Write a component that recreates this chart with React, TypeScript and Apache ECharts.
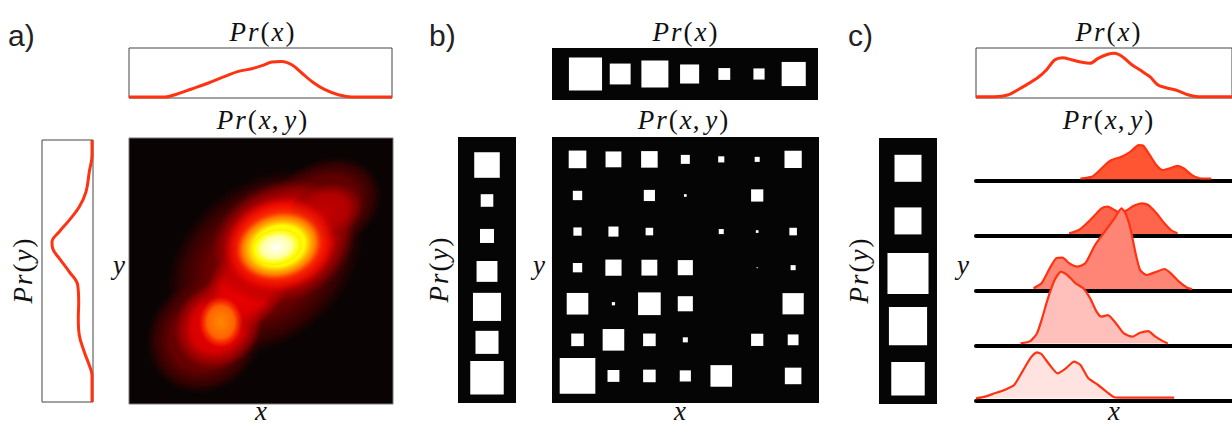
import React, { useEffect, useRef } from "react";
import * as echarts from "echarts";

// ---------- panel a ----------
const aTopX = [0, 13.7, 17.5, 23.8, 30.2, 36.5, 41.6, 46.7, 50.5, 54.3, 58.1, 61.9, 65.7, 69.5, 74.5, 79.6, 84.7, 100];
const aTopP = [0, 0, 2.3, 8, 14, 20.6, 25.6, 28.3, 31.3, 35, 35.6, 32.3, 24, 15.6, 7.3, 2.3, 0, 0];
const aLeftY = [100, 99.4, 94.3, 87.9, 80.2, 74.5, 69.4, 65, 61.1, 58.6, 54.8, 49.7, 44.6, 38.2, 31.9, 25.5, 19.1, 14, 10.2, 0];
const aLeftP = [0, 0, 0, 2.7, 6, 12.7, 22.7, 32.7, 40, 39.3, 32.7, 22.7, 14.3, 13.3, 13.7, 12.7, 7.7, 2.7, 0, 0];

// density blobs of Pr(x,y): centre, radii, angle, intensity
const blobX = [28.8, 51.5, 74.2, 33.7, 45.1, 58.3, 74.2, 34.8, 57.2, 56.8, 55.9];
const blobY = [25.9, 53.4, 74.8, 29.7, 44.7, 60.9, 72.2, 30.8, 59.8, 59.4, 59.0];
const blobRX = [23.4, 41.5, 22.6, 18.1, 20.8, 28.3, 15.1, 8.6, 22.0, 16.6, 10.0];
const blobRY = [20.8, 30.2, 17, 15.8, 14.3, 22.6, 10.6, 10.0, 18.0, 12.6, 7.0];
const blobAngle = [45, 40, 25, 45, 50, 25, 20, 0, 15, 15, 12];
const blobLevel = [0.16, 0.16, 0.15, 0.34, 0.35, 0.34, 0.28, 0.57, 0.52, 0.82, 1.0];

// ---------- panel b ----------
const bTopP = [0.92, 0.58, 0.75, 0.53, 0.33, 0.31, 0.67];
const bLeftP = [0.71, 0.35, 0.39, 0.58, 0.78, 0.64, 0.93];
const bJoint = [
  [0.49, 0.44, 0.46, 0.25, 0.17, 0.14, 0.48],
  [0.26, 0, 0.31, 0.075, 0, 0.34, 0],
  [0.23, 0.28, 0.21, 0, 0.14, 0.075, 0.21],
  [0.26, 0.45, 0.44, 0.42, 0, 0.03, 0.14],
  [0.6, 0.09, 0.63, 0.42, 0, 0, 0.59],
  [0.35, 0.6, 0.35, 0.14, 0, 0.34, 0.3],
  [0.99, 0.33, 0.35, 0.31, 0.6, 0, 0.46],
];

// ---------- panel c ----------
const cTopX = [0, 7.3, 12.4, 17.4, 23.8, 27.5, 30.7, 33.8, 37.6, 41.4, 44.6, 47.7, 51.5, 54.1, 57.2, 61, 64.1, 67.9, 71.1, 74.2, 78, 83.1, 86.9, 100];
const cTopP = [0, 0, 1.7, 8.4, 18.4, 26.7, 36.7, 39, 36.7, 34.4, 33.4, 38.4, 42.4, 43.4, 40, 31.7, 26.7, 20, 11.7, 9, 6.7, 1.7, 0, 0];
const cLeftP = [0.75, 0.75, 1.14, 1.06, 0.93];

const r1X = [40.8, 45.2, 47.7, 50.3, 52.8, 56.6, 60.3, 63.5, 65.4, 67.9, 70.5, 73, 75.5, 78.7, 81.2, 84.4, 88.1, 91.9];
const r1P = [0.7, 2.3, 7.3, 14, 19, 22.3, 27.3, 34, 33.3, 24, 14, 9, 10.7, 13.3, 10.7, 4, 0.7, 0.7];
const r2X = [36.4, 40.2, 43.3, 46.5, 49, 51.5, 54.1, 56.4, 59.1, 61.6, 64.8, 67.3, 70.5, 73.6, 76.1, 78.7];
const r2P = [0.7, 4, 10.7, 19, 25.7, 27.3, 24, 21, 24, 28.3, 30.7, 29, 20.7, 10.7, 4, 0.7];
const r3X = [22.5, 25.6, 28.8, 31.3, 33.8, 36.4, 39.5, 42.7, 46.5, 50.3, 54.1, 56.8, 58.4, 60.3, 62.2, 64.1, 66.7, 70.5, 73.6, 76.1, 79.3, 82.5, 84.4];
const r3P = [0.7, 5.7, 20.7, 30.7, 31.3, 25.7, 22.3, 25.7, 44, 57.3, 70.7, 80.7, 75.7, 60.7, 37.3, 19, 14, 17.3, 20, 15.7, 7.3, 1.3, 0];
const r4X = [17.4, 21.2, 23.8, 25.6, 28.1, 30.7, 33.2, 35.7, 38.9, 42, 44.6, 47.1, 49, 51.5, 54.7, 57.8, 61, 64.1, 67.3, 69.8, 73, 74.9];
const r4P = [0, 2.3, 10, 23.3, 45, 63.3, 71.7, 68.3, 60, 55, 45, 31.7, 26.7, 28.3, 20, 10, 6.7, 10.7, 12.3, 7.3, 2.3, 0];
const r5X = [0, 3.5, 7.3, 11.1, 14.9, 18.1, 21.2, 23.8, 25.6, 28.8, 31.9, 35.1, 38.3, 40.8, 43.9, 47.7, 50.9, 54.1, 56.6, 77.4];
const r5P = [0, 1.7, 5, 8.3, 13.3, 26.7, 40, 46, 44, 33.3, 25, 30, 36.7, 33.3, 20, 13.3, 6.7, 1, 0.7, 0.7];

const ridgeX = [r1X, r2X, r3X, r4X, r5X];
const ridgeP = [r1P, r2P, r3P, r4P, r5P];

// ---------- styles ----------
const RED = "#ff3311";
const RIDGE_FILL = ["#ff5533", "#ff654c", "#ff8677", "#ffbfba", "#ffe3e1"];
const RIDGE_BASE = [181.2, 236, 291, 345.4, 400.3];
const SQ = 36;
const SERIF = "'Liberation Serif', 'Times New Roman', serif";
const SANS = "'Liberation Sans', Arial, sans-serif";
const MATH_SIZE = 27;

const zip = (xs: number[], ys: number[]) => xs.map((x, i) => [x, ys[i]]);

function clamp(v: number) {
  return Math.max(0, Math.min(1, v));
}
function hot(t: number, a: number) {
  const r = Math.round(255 * clamp(t / 0.365));
  const g = Math.round(255 * clamp((t - 0.365) / 0.381));
  const b = Math.round(255 * clamp((t - 0.746) / 0.254));
  return `rgba(${r},${g},${b},${a})`;
}

function mathRich(s: string) {
  let out = "";
  for (const ch of s) {
    if (/[A-Za-z]/.test(ch)) out += `{i|${ch}}`;
    else if (ch === ",") out += `{c|${ch}}`;
    else out += `{n|${ch}}`;
  }
  return out;
}
const MATH_RICH = {
  i: { fontFamily: SERIF, fontStyle: "italic", fontSize: MATH_SIZE, lineHeight: 24, padding: [0, 1, 0, 1], fill: "#111" },
  n: { fontFamily: SERIF, fontSize: MATH_SIZE, lineHeight: 24, padding: [0, 1, 0, 1], fill: "#111" },
  c: { fontFamily: SERIF, fontSize: MATH_SIZE, lineHeight: 24, padding: [0, 5, 0, 0], fill: "#111" },
};
function mathText(s: string, x: number, y: number, rotation = 0) {
  return {
    type: "text",
    x,
    y,
    rotation,
    style: {
      text: mathRich(s),
      rich: MATH_RICH,
      align: "center",
      verticalAlign: "middle",
      fill: "#111",
      fontSize: MATH_SIZE,
      fontFamily: SERIF,
      lineHeight: 24,
    },
  };
}
function labelText(s: string, x: number, y: number) {
  return {
    type: "text",
    x,
    y,
    style: { text: s, fontFamily: SANS, fontSize: 30, fill: "#222", align: "left", verticalAlign: "middle" },
  };
}

export default function App() {
  const ref = useRef<HTMLDivElement>(null);
  useEffect(() => {
    if (!ref.current) return;
    const chart = echarts.init(ref.current, undefined, { renderer: "svg" });

    const grids: any[] = [];
    const xAxes: any[] = [];
    const yAxes: any[] = [];
    const hidden = { show: false };
    const addGrid = (g: any, xa: any, ya: any) => {
      grids.push({ show: true, borderWidth: 0, backgroundColor: "transparent", ...g });
      xAxes.push({ type: "value", gridIndex: grids.length - 1, ...hidden, ...xa });
      yAxes.push({ type: "value", gridIndex: grids.length - 1, ...hidden, ...ya });
      return grids.length - 1;
    };
    const boxBorder = { borderWidth: 1, borderColor: "#444" };
    const blackBox = { backgroundColor: "#050505", borderWidth: 0 };

    // a
    const gA0 = addGrid({ left: 129, top: 48, width: 263, height: 50, ...boxBorder }, { min: 0, max: 100 }, { min: -1, max: 49 });
    const gA1 = addGrid({ left: 42, top: 140, width: 51, height: 262, ...boxBorder }, { min: -1, max: 50, inverse: true }, { min: 0, max: 100 });
    const gA2 = addGrid({ left: 129, top: 138, width: 264, height: 266, backgroundColor: "#0a0303", borderWidth: 1, borderColor: "#777" }, { min: 0, max: 100 }, { min: 0, max: 100 });
    // b
    const gB0 = addGrid({ left: 552, top: 48, width: 266, height: 52, ...blackBox }, { min: -0.965, max: 6.7 }, { min: -1, max: 1 });
    const gB1 = addGrid({ left: 458, top: 137, width: 58, height: 266, ...blackBox }, { min: -1, max: 1 }, { min: -0.79, max: 6.71, inverse: true });
    const gB2 = addGrid({ left: 552, top: 137, width: 267, height: 266, ...blackBox }, { min: -0.71, max: 6.72 }, { min: -0.62, max: 6.75, inverse: true });
    // c
    const gC0 = addGrid({ left: 976, top: 48, width: 264, height: 50, ...boxBorder }, { min: 0, max: 100 }, { min: -1.3, max: 48.7 });
    const gC1 = addGrid({ left: 879, top: 138, width: 58, height: 266, ...blackBox }, { min: -1, max: 1 }, { min: -0.576, max: 4.48, inverse: true });
    const ridgeGrids = RIDGE_BASE.map((yc) =>
      addGrid(
        { left: 976, top: yc - 90, width: 264, height: 90 },
        {
          min: 0,
          max: 100,
          show: true,
          axisLine: { show: true, onZero: false, lineStyle: { color: "#000", width: 4 } },
          axisTick: { show: false },
          axisLabel: { show: false },
          splitLine: { show: false },
        },
        { min: -2, max: 88 }
      )
    );

    const lineBase = { type: "line", symbol: "none", showSymbol: false, silent: true };

    const series: any[] = [
      { ...lineBase, xAxisIndex: gA0, yAxisIndex: gA0, data: zip(aTopX, aTopP), smooth: 0.4, lineStyle: { color: RED, width: 3 } },
      { ...lineBase, xAxisIndex: gA1, yAxisIndex: gA1, data: zip(aLeftP, aLeftY), smooth: 0.4, lineStyle: { color: RED, width: 3 } },
      {
        type: "custom",
        xAxisIndex: gA2,
        yAxisIndex: gA2,
        clip: true,
        silent: true,
        data: blobX.map((x, i) => [x, blobY[i], blobRX[i], blobRY[i], blobAngle[i], blobLevel[i]]),
        renderItem: (params: any, api: any) => {
          const c = api.coord([api.value(0), api.value(1)]);
          const rx = api.size([api.value(2), 0])[0];
          const ry = api.size([0, api.value(3)])[1];
          const L = api.value(5);
          return {
            type: "circle",
            x: c[0],
            y: c[1],
            rotation: (api.value(4) * Math.PI) / 180,
            scaleX: rx / ry,
            scaleY: 1,
            shape: { cx: 0, cy: 0, r: ry },
            style: {
              fill: {
                type: "radial",
                x: 0.5,
                y: 0.5,
                r: 0.5,
                colorStops: [
                  { offset: 0, color: hot(L, 1) },
                  { offset: 0.6, color: hot(L * 0.9, 1) },
                  { offset: 0.85, color: hot(L * 0.75, 0.55) },
                  { offset: 1, color: hot(L * 0.6, 0) },
                ],
              },
            },
          };
        },
      },
      {
        type: "scatter",
        xAxisIndex: gB0,
        yAxisIndex: gB0,
        symbol: "rect",
        silent: true,
        data: bTopP.map((v, i) => [i, 0, v]),
        symbolSize: (v: number[]) => v[2] * SQ,
        itemStyle: { color: "#fff", opacity: 1 },
      },
      {
        type: "scatter",
        xAxisIndex: gB1,
        yAxisIndex: gB1,
        symbol: "rect",
        silent: true,
        data: bLeftP.map((v, i) => [0, i, v]),
        symbolSize: (v: number[]) => v[2] * SQ,
        itemStyle: { color: "#fff", opacity: 1 },
      },
      {
        type: "scatter",
        xAxisIndex: gB2,
        yAxisIndex: gB2,
        symbol: "rect",
        silent: true,
        data: bJoint.flatMap((row, r) => row.map((v, c) => [c, r, v]).filter((d) => d[2] > 0)),
        symbolSize: (v: number[]) => v[2] * SQ,
        itemStyle: { color: "#fff", opacity: 1 },
      },
      { ...lineBase, xAxisIndex: gC0, yAxisIndex: gC0, data: zip(cTopX, cTopP), smooth: 0.3, lineStyle: { color: RED, width: 3 } },
      {
        type: "scatter",
        xAxisIndex: gC1,
        yAxisIndex: gC1,
        symbol: "rect",
        silent: true,
        data: cLeftP.map((v, i) => [0, i, v]),
        symbolSize: (v: number[]) => v[2] * SQ,
        itemStyle: { color: "#fff", opacity: 1 },
      },
      ...ridgeGrids.map((g, k) => ({
        ...lineBase,
        xAxisIndex: g,
        yAxisIndex: g,
        z: 3 + k,
        data: zip(ridgeX[k], ridgeP[k]),
        smooth: 0.2,
        lineStyle: { color: RED, width: 2.2 },
        areaStyle: { color: RIDGE_FILL[k], opacity: 1 },
      })),
    ];

    const graphic: any[] = [
      labelText("a)", 8, 35),
      labelText("b)", 429, 35),
      labelText("c)", 848, 35),
      mathText("Pr(x)", 262, 32),
      mathText("Pr(x)", 685, 32),
      mathText("Pr(x)", 1108, 32),
      mathText("Pr(x,y)", 262, 120),
      mathText("Pr(x,y)", 683, 120),
      mathText("Pr(x,y)", 1108, 120),
      mathText("Pr(y)", 23, 271, Math.PI / 2),
      mathText("Pr(y)", 439, 270, Math.PI / 2),
      mathText("Pr(y)", 859, 271, Math.PI / 2),
      mathText("y", 119, 265),
      mathText("y", 539, 265),
      mathText("y", 963, 265),
      mathText("x", 261, 411),
      mathText("x", 680, 411),
      mathText("x", 1114, 411),
    ];

    chart.setOption({
      animation: false,
      backgroundColor: "#ffffff",
      grid: grids,
      xAxis: xAxes,
      yAxis: yAxes,
      series,
      graphic,
    });
    return () => chart.dispose();
  }, []);
  return <div ref={ref} style={{ position: "absolute", left: 0, top: 0, width: 1232, height: 426 }} />;
}
